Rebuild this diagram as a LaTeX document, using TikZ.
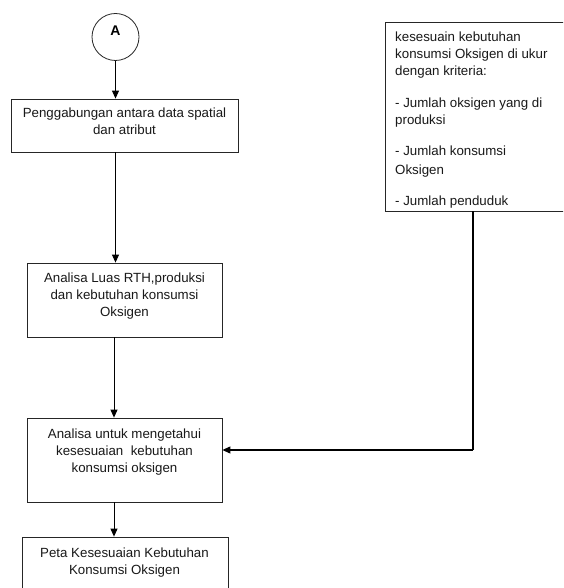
\documentclass[tikz,border=0pt]{standalone}
\usepackage{fontspec}
\setmainfont{Liberation Sans}
\usetikzlibrary{arrows.meta}
\begin{document}
\begin{tikzpicture}[x=1pt,y=1pt,
  box/.style={draw=black!85, line width=0.8pt, rectangle, inner sep=0pt},
  txt/.style={anchor=north, inner sep=0pt, align=center, font=\fontsize{13.3}{17}\selectfont, text=black!90},
  conn/.style={draw=black, line width=1pt, -{Triangle[length=8pt,width=7pt]}},
]
\path[use as bounding box] (0,0) rectangle (563,588);
\clip (0,0) rectangle (563,588);
\fill[white] (0,0) rectangle (563,588);

% start connector circle
\node[draw=black!85, line width=0.8pt, circle, minimum size=47pt, inner sep=0pt] (A) at (115.5,551) {};
\node[font=\bfseries\fontsize{14}{16}\selectfont, inner sep=0pt] (Atxt) at (115.5,557) {A};

% boxes
\node[box, minimum width=227pt, minimum height=53pt] (b1) at (124.5,462.5) {};
\node[txt] (t1) at (124.5,480.5) {Penggabungan antara data spatial\\dan atribut};

\node[box, minimum width=195pt, minimum height=74pt] (b2) at (124.5,288) {};
\node[txt] (t2) at (124.5,315.5) {Analisa Luas RTH,produksi\\dan kebutuhan konsumsi\\Oksigen};

\node[box, minimum width=195pt, minimum height=84pt] (b3) at (124.5,128) {};
\node[txt] (t3) at (124.5,159.5) {Analisa untuk mengetahui\\kesesuaian\ \ kebutuhan\\konsumsi oksigen};

\node[box, minimum width=206pt, minimum height=63pt] (b4) at (125,19.5) {};
\node[txt] (t4) at (124.5,40.5) {Peta Kesesuaian Kebutuhan\\Konsumsi Oksigen};

% criteria box
\node[box, minimum width=190pt, minimum height=189pt] (rb) at (480,471.5) {};
\begin{scope}
\clip (rb.south west) rectangle (rb.north east);
\node[txt, align=left, anchor=north west, font=\fontsize{13.3}{17}\selectfont] (rt) at (395,556)
 {kesesuain kebutuhan\\konsumsi Oksigen di ukur\\dengan kriteria:\\[15pt]- Jumlah oksigen yang di\\produksi\\[14pt]- Jumlah konsumsi\\[2pt]Oksigen\\[14pt]- Jumlah penduduk};
\end{scope}

% connectors
\draw[conn] (A.south) -- (A.south |- b1.north);
\draw[conn] (b1.south -| A) -- (b2.north -| A);
\draw[conn] ([xshift=-1.5pt]b2.south -| A) -- ([xshift=-1.5pt]b3.north -| A);
\draw[conn] ([xshift=-1.5pt]b3.south -| A) -- ([xshift=-1.5pt]b4.north -| A);

\coordinate (k) at (473,138);
\draw[black, line width=1.8pt] (rb.south -| k) -- (k);
\draw[conn, line width=1.1pt] (k) -- (k -| b3.east);
\end{tikzpicture}
\end{document}
